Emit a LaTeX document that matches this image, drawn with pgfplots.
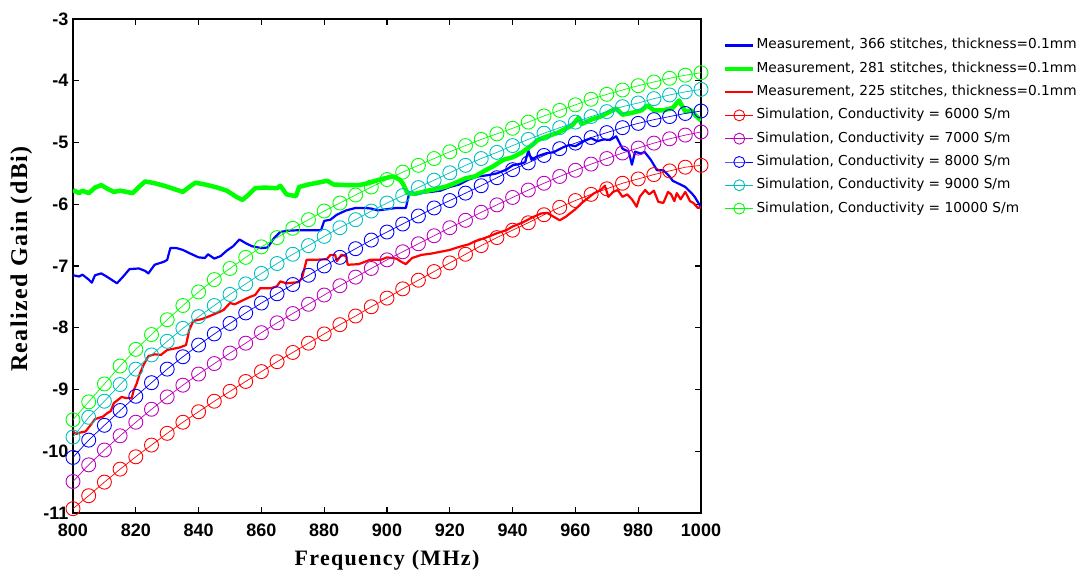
\documentclass[border=0pt]{standalone}
\usepackage{fontspec}
\setmainfont{Liberation Sans}
\newfontfamily\labfont{Liberation Serif}[LetterSpace=6]
\newfontfamily\legfont{DejaVu Sans}
\usepackage{pgfplots}
\usepackage{pgfplotstable}
\pgfplotsset{compat=1.18}
\definecolor{mcyan}{rgb}{0,0.75,0.75}
\definecolor{mmag}{rgb}{0.75,0,0.75}

% simulated gain, one column per conductivity (S/m)
\pgfplotstableread{
f     s6     s7     s8     s9     s10
800  -10.93 -10.49 -10.10 -9.77 -9.49
805  -10.72 -10.22 -9.82  -9.45 -9.20
810  -10.50 -9.98  -9.58  -9.19 -8.91
815  -10.29 -9.75  -9.34  -8.92 -8.62
820  -10.09 -9.53  -9.11  -8.67 -8.35
825  -9.90  -9.32  -8.89  -8.44 -8.11
830  -9.71  -9.12  -8.67  -8.22 -7.87
835  -9.53  -8.93  -8.47  -8.01 -7.64
840  -9.36  -8.75  -8.28  -7.82 -7.42
845  -9.19  -8.58  -8.10  -7.64 -7.22
850  -9.03  -8.41  -7.93  -7.46 -7.04
855  -8.87  -8.25  -7.76  -7.29 -6.86
860  -8.71  -8.08  -7.60  -7.12 -6.69
865  -8.55  -7.92  -7.45  -6.96 -6.54
870  -8.40  -7.77  -7.30  -6.81 -6.39
875  -8.25  -7.62  -7.15  -6.67 -6.25
880  -8.10  -7.47  -7.00  -6.52 -6.11
885  -7.95  -7.32  -6.86  -6.38 -5.98
890  -7.81  -7.18  -6.72  -6.25 -5.85
895  -7.66  -7.04  -6.58  -6.11 -5.72
900  -7.52  -6.90  -6.45  -5.98 -5.60
905  -7.37  -6.77  -6.32  -5.86 -5.48
910  -7.23  -6.64  -6.19  -5.73 -5.37
915  -7.09  -6.51  -6.06  -5.61 -5.26
920  -6.95  -6.38  -5.94  -5.49 -5.15
925  -6.81  -6.26  -5.82  -5.37 -5.05
930  -6.67  -6.13  -5.70  -5.26 -4.95
935  -6.54  -6.01  -5.57  -5.16 -4.86
940  -6.42  -5.89  -5.44  -5.05 -4.77
945  -6.30  -5.77  -5.33  -4.95 -4.67
950  -6.17  -5.66  -5.21  -4.85 -4.57
955  -6.05  -5.55  -5.10  -4.76 -4.48
960  -5.94  -5.45  -5.01  -4.67 -4.39
965  -5.84  -5.35  -4.92  -4.58 -4.30
970  -5.75  -5.26  -4.84  -4.50 -4.22
975  -5.66  -5.17  -4.76  -4.42 -4.15
980  -5.59  -5.09  -4.69  -4.36 -4.08
985  -5.52  -5.01  -4.63  -4.29 -4.02
990  -5.46  -4.94  -4.58  -4.23 -3.96
995  -5.40  -4.88  -4.53  -4.18 -3.91
1000 -5.37  -4.83  -4.49  -4.14 -3.87
}\simtable

\begin{document}
\begin{tikzpicture}
\begin{axis}[
    width=628pt, height=494pt, scale only axis,
    xmin=800, xmax=1000, ymin=-11, ymax=-3,
    xtick={800,820,...,1000}, ytick={-11,-10,...,-3},
    tick align=inside, major tick length=6pt,
    axis line style={line width=1.1pt},
    every tick/.style={black, line width=1.1pt},
    /pgf/number format/assume math mode=true,
    /pgf/number format/1000 sep={},
    tick label style={font=\fontsize{18}{18}\selectfont\bfseries},
    xticklabel style={yshift=-7pt},
    yticklabel style={xshift=-1pt},
    xlabel={\labfont\bfseries\fontsize{22}{22}\selectfont Frequency (MHz)},
    ylabel={\labfont\bfseries\fontsize{24}{24}\selectfont Realized Gain (dBi)},
    xlabel style={at={(axis description cs:0.5,-0.107)}, anchor=base},
    ylabel style={at={(axis description cs:-0.0732,0.514)}, anchor=base},
    legend cell align=left,
    legend image code/.code={\draw[mark repeat=2,mark phase=2,mark size=5.5pt] plot coordinates {(0pt,0pt) (14pt,0pt) (28pt,0pt)};},
    legend style={at={(rel axis cs:1.03,0.965)}, anchor=north west, draw=none, fill=none,
        font=\legfont\fontsize{13.7}{15}\selectfont, row sep=9.3pt,
        nodes={inner sep=1pt, text height=9.5pt, text depth=2.5pt}},
]
% measured, 366 stitches
\addplot[blue, line width=2.2pt, line join=round] coordinates {
(800,-7.15)(802,-7.17)(803,-7.14)(805,-7.22)(806,-7.27)(807,-7.15)(809,-7.12)(811,-7.18)
(814,-7.28)(816,-7.17)(818,-7.05)(821,-7.04)(823,-7.08)(824,-7.12)(826,-6.98)(829,-6.93)
(830,-6.90)(831,-6.71)(833,-6.71)(835,-6.74)(837,-6.79)(840,-6.86)(842,-6.87)(843,-6.81)
(845,-6.88)(847,-6.84)(849,-6.75)(851,-6.68)(853,-6.57)(855,-6.63)(857,-6.68)(860,-6.71)
(862,-6.70)(864,-6.55)(866,-6.45)(868,-6.43)(872,-6.42)(876,-6.42)(879,-6.42)(880,-6.27)
(882,-6.25)(884,-6.17)(887,-6.10)(890,-6.06)(893,-6.06)(895,-6.07)(897,-6.10)(900,-6.08)
(903,-6.06)(906,-6.06)(907,-5.84)(910,-5.82)(914,-5.80)(917,-5.78)(920,-5.72)(923,-5.68)
(926,-5.60)(929,-5.55)(932,-5.53)(935,-5.50)(938,-5.44)(940,-5.37)(942,-5.35)(944,-5.32)
(945,-5.13)(946,-5.28)(948,-5.22)(951,-5.17)(953,-5.16)(956,-5.08)(958,-5.04)(960,-5.06)
(963,-4.97)(965,-4.93)(967,-4.98)(969,-4.95)(971,-4.96)(973,-4.90)(975,-5.10)(977,-5.15)
(978,-5.36)(979,-5.15)(981,-5.18)(982,-5.15)(984,-5.28)(986,-5.45)(988,-5.45)(990,-5.55)
(991,-5.62)(993,-5.67)(995,-5.72)(997,-5.82)(998,-5.88)(1000,-6.05)
};
\addlegendentry{Measurement, 366 stitches, thickness=0.1mm}
% measured, 281 stitches
\addplot[green, line width=4.5pt, line join=round] coordinates {
(800,-5.77)(802,-5.82)(803,-5.78)(805,-5.82)(807,-5.73)(809,-5.69)(811,-5.75)(813,-5.80)
(815,-5.78)(817,-5.80)(819,-5.82)(821,-5.72)(823,-5.63)(826,-5.66)(829,-5.70)(832,-5.75)
(835,-5.80)(837,-5.72)(839,-5.65)(842,-5.68)(846,-5.73)(849,-5.78)(852,-5.88)(854,-5.93)
(856,-5.84)(858,-5.74)(861,-5.73)(865,-5.74)(866,-5.70)(868,-5.84)(871,-5.87)(872,-5.72)
(875,-5.68)(879,-5.64)(881,-5.62)(883,-5.68)(887,-5.69)(891,-5.69)(894,-5.66)(897,-5.61)
(900,-5.57)(902,-5.55)(904,-5.60)(905,-5.66)(906.5,-5.82)(909,-5.83)(913,-5.78)(916,-5.75)
(919,-5.71)(922,-5.65)(925,-5.58)(928,-5.55)(931,-5.46)(934,-5.38)(937,-5.28)(940,-5.24)
(943,-5.16)(946,-5.05)(948,-4.96)(951,-4.90)(954,-4.85)(956,-4.80)(959,-4.72)(961,-4.60)
(962,-4.70)(965,-4.63)(968,-4.58)(971,-4.50)(973,-4.45)(975,-4.55)(978,-4.52)(981,-4.48)
(983,-4.40)(985,-4.48)(988,-4.48)(991,-4.44)(993,-4.32)(995,-4.50)(997,-4.48)(998,-4.55)
(1000,-4.64)
};
\addlegendentry{Measurement, 281 stitches, thickness=0.1mm}
% measured, 225 stitches
\addplot[red, line width=2.2pt, line join=round] coordinates {
(800,-9.68)(801,-9.72)(802,-9.70)(804,-9.68)(806,-9.55)(807,-9.48)(809.5,-9.44)(811,-9.38)
(812,-9.35)(813,-9.22)(814,-9.18)(815.5,-9.12)(817,-9.14)(818.7,-9.14)(819.3,-9.02)(820.3,-8.90)
(821.3,-8.74)(822.5,-8.60)(824,-8.46)(826,-8.43)(828,-8.44)(830,-8.36)(832,-8.34)(834,-8.32)
(836,-8.28)(837,-8.04)(838.3,-7.89)(841,-7.86)(843.6,-7.81)(846.8,-7.74)(848,-7.71)(850,-7.60)
(851.5,-7.62)(853.5,-7.57)(856.4,-7.50)(858,-7.47)(859.6,-7.36)(863,-7.36)(864.9,-7.33)(866,-7.25)
(868,-7.28)(870,-7.27)(872,-7.26)(873,-7.18)(874.4,-6.90)(877,-6.90)(880.8,-6.89)(882,-6.82)
(883.5,-6.82)(884,-6.92)(885.5,-6.82)(887,-6.84)(887.5,-6.98)(891,-6.97)(894.6,-6.90)(898,-6.90)
(900,-6.86)(903,-6.88)(904.5,-6.93)(906,-6.97)(908,-6.87)(911,-6.82)(914,-6.80)(917,-6.77)
(920,-6.74)(923,-6.69)(926,-6.65)(928,-6.60)(931,-6.55)(935,-6.47)(938,-6.42)(940,-6.36)
(943,-6.30)(946,-6.22)(949,-6.15)(951,-6.14)(953,-6.20)(955,-6.26)(957,-6.20)(960,-6.08)
(962,-5.98)(964,-5.90)(966,-5.82)(968,-5.77)(969.4,-5.70)(970.5,-5.88)(972,-5.80)(973.5,-5.77)
(975,-5.88)(976.5,-5.84)(978,-5.92)(979.5,-6.04)(980.5,-5.88)(982.2,-5.77)(983.5,-5.84)(985,-5.78)
(986.4,-5.96)(988,-5.98)(989.5,-5.80)(990.5,-5.84)(991.5,-5.95)(992.3,-5.82)(993.5,-5.92)(995,-5.80)
(996.5,-5.95)(997.6,-5.98)(999,-6.06)(1000,-6.05)
};
\addlegendentry{Measurement, 225 stitches, thickness=0.1mm}
% simulations
\addplot[red, line width=0.7pt, mark=o, mark size=7pt, mark options={line width=0.9pt}] table[x=f, y=s6] {\simtable};
\addlegendentry{Simulation, Conductivity = 6000 S/m}
\addplot[mmag, line width=0.7pt, mark=o, mark size=7pt, mark options={line width=0.9pt}] table[x=f, y=s7] {\simtable};
\addlegendentry{Simulation, Conductivity = 7000 S/m}
\addplot[blue, line width=0.7pt, mark=o, mark size=7pt, mark options={line width=0.9pt}] table[x=f, y=s8] {\simtable};
\addlegendentry{Simulation, Conductivity = 8000 S/m}
\addplot[mcyan, line width=0.7pt, mark=o, mark size=7pt, mark options={line width=0.9pt}] table[x=f, y=s9] {\simtable};
\addlegendentry{Simulation, Conductivity = 9000 S/m}
\addplot[green, line width=0.7pt, mark=o, mark size=7pt, mark options={line width=0.9pt}] table[x=f, y=s10] {\simtable};
\addlegendentry{Simulation, Conductivity = 10000 S/m}
\end{axis}
\pgfresetboundingbox
\useasboundingbox (-73pt,-59pt) rectangle (1016pt,513pt);
\end{tikzpicture}
\end{document}
